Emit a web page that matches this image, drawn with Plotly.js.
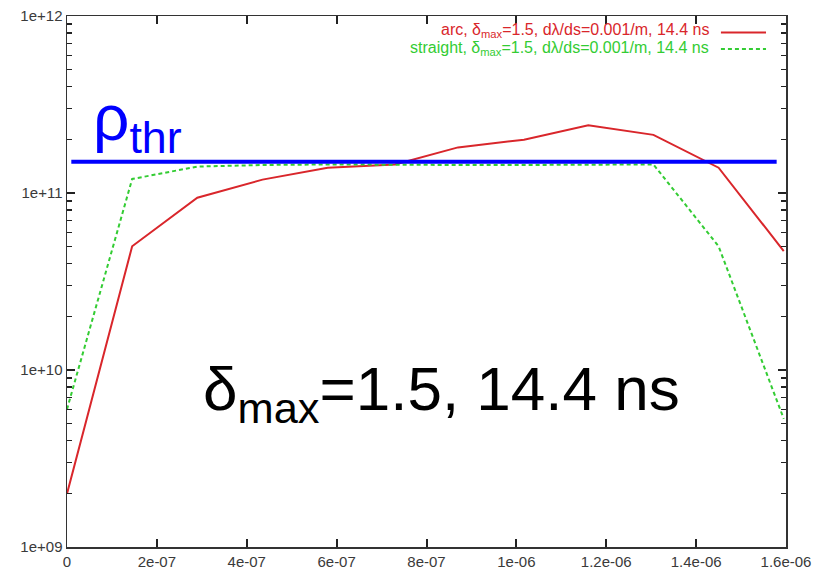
<!DOCTYPE html>
<html>
<head>
<meta charset="utf-8">
<script src="https://cdn.plot.ly/plotly-3.0.1.min.js"></script>
<style>html,body{margin:0;padding:0;background:#fff;}#chart{width:818px;height:571px;}</style>
</head>
<body>
<div id="chart"></div>
<script>
// data
const xPos = [0, 1.45e-7, 2.9e-7, 4.35e-7, 5.8e-7, 7.3e-7, 8.7e-7, 1.017e-6, 1.16e-6, 1.305e-6, 1.45e-6, 1.595e-6];
const arcVals = [2.0e9, 5.0e10, 9.4e10, 1.19e11, 1.39e11, 1.45e11, 1.81e11, 2.0e11, 2.41e11, 2.13e11, 1.39e11, 4.7e10];
const straightVals = [6.0e9, 1.2e11, 1.41e11, 1.44e11, 1.45e11, 1.44e11, 1.44e11, 1.44e11, 1.45e11, 1.45e11, 5.0e10, 5.3e9];
const rhoThr = 1.5e11;
const yTickVals = [1e9, 1e10, 1e11, 1e12];
const yTickText = ["1e+09", "1e+10", "1e+11", "1e+12"];
const yMinorVals = [2e9, 3e9, 4e9, 5e9, 6e9, 7e9, 8e9, 9e9,
                    2e10, 3e10, 4e10, 5e10, 6e10, 7e10, 8e10, 9e10,
                    2e11, 3e11, 4e11, 5e11, 6e11, 7e11, 8e11, 9e11];
const xTickVals = [0, 2e-7, 4e-7, 6e-7, 8e-7, 1e-6, 1.2e-6, 1.4e-6, 1.6e-6];
const xTickText = ["0", "2e-07", "4e-07", "6e-07", "8e-07", "1e-06", "1.2e-06", "1.4e-06", "1.6e-06"];
const arcLabel = "arc, δ<sub>max</sub>=1.5, dλ/ds=0.001/m, 14.4 ns";
const straightLabel = "straight, δ<sub>max</sub>=1.5, dλ/ds=0.001/m, 14.4 ns";
const bigLabel = "δ<sub>max</sub>=1.5, 14.4 ns";
const rhoLabel = "ρ<sub>thr</sub>";

const RED = "#d9262b";
const GREEN = "#33cc33";
const FONT = "Liberation Sans, Arial, sans-serif";

const traces = [
  {x: xPos, y: arcVals, type: "scatter", mode: "lines", name: arcLabel,
   line: {color: RED, width: 2}},
  {x: xPos, y: straightVals, type: "scatter", mode: "lines", name: straightLabel,
   line: {color: GREEN, width: 2, dash: "4px,3px"}}
];

const axisCommon = {
  showgrid: false, zeroline: false, showline: true, linecolor: "#333", linewidth: 1.5,
  ticks: "inside", tickcolor: "#222", mirror: "allticks",
  tickfont: {family: FONT, size: 15, color: "#3a3a3a"}
};

const layout = {
  width: 818, height: 571,
  margin: {l: 67, r: 32, t: 16, b: 24},
  paper_bgcolor: "#fff", plot_bgcolor: "#fff",
  showlegend: false,
  xaxis: Object.assign({}, axisCommon, {
    range: [0, 1.6e-6], tickmode: "array", tickvals: xTickVals, ticktext: xTickText,
    ticklen: 8, tickwidth: 2
  }),
  yaxis: Object.assign({}, axisCommon, {
    type: "log", range: [9, 12], tickmode: "array", tickvals: yTickVals, ticktext: yTickText,
    ticklen: 8, tickwidth: 2,
    minor: {ticks: "inside", ticklen: 5, tickcolor: "#222", tickwidth: 1.5,
            tickmode: "array", tickvals: yMinorVals}
  }),
  shapes: [
    {type: "line", xref: "paper", yref: "y", x0: 0.006, x1: 0.987, y0: rhoThr, y1: rhoThr,
     line: {color: "#0000ff", width: 4}},
    {type: "line", xref: "paper", yref: "paper", x0: 0.9095, x1: 0.9722, y0: 0.9689, y1: 0.9689,
     line: {color: RED, width: 2}},
    {type: "line", xref: "paper", yref: "paper", x0: 0.9095, x1: 0.9722, y0: 0.9379, y1: 0.9379,
     line: {color: GREEN, width: 2, dash: "4px,3px"}}
  ],
  annotations: [
    {xref: "paper", yref: "paper", x: 0.8956, y: 0.9736, xanchor: "right", yanchor: "middle",
     text: arcLabel, showarrow: false, font: {family: FONT, size: 16, color: RED}},
    {xref: "paper", yref: "paper", x: 0.8956, y: 0.9397, xanchor: "right", yanchor: "middle",
     text: straightLabel, showarrow: false, font: {family: FONT, size: 16, color: GREEN}},
    {xref: "paper", yref: "paper", x: 0.186, y: 0.29, xanchor: "left", yanchor: "middle",
     text: bigLabel, showarrow: false, font: {family: FONT, size: 62, color: "#000"}},
    {xref: "paper", yref: "paper", x: 0.033, y: 0.80, xanchor: "left", yanchor: "middle",
     text: rhoLabel, showarrow: false, font: {family: FONT, size: 64, color: "#0000ff"}}
  ]
};

Plotly.newPlot("chart", traces, layout, {displayModeBar: false, staticPlot: true});
</script>
</body>
</html>
